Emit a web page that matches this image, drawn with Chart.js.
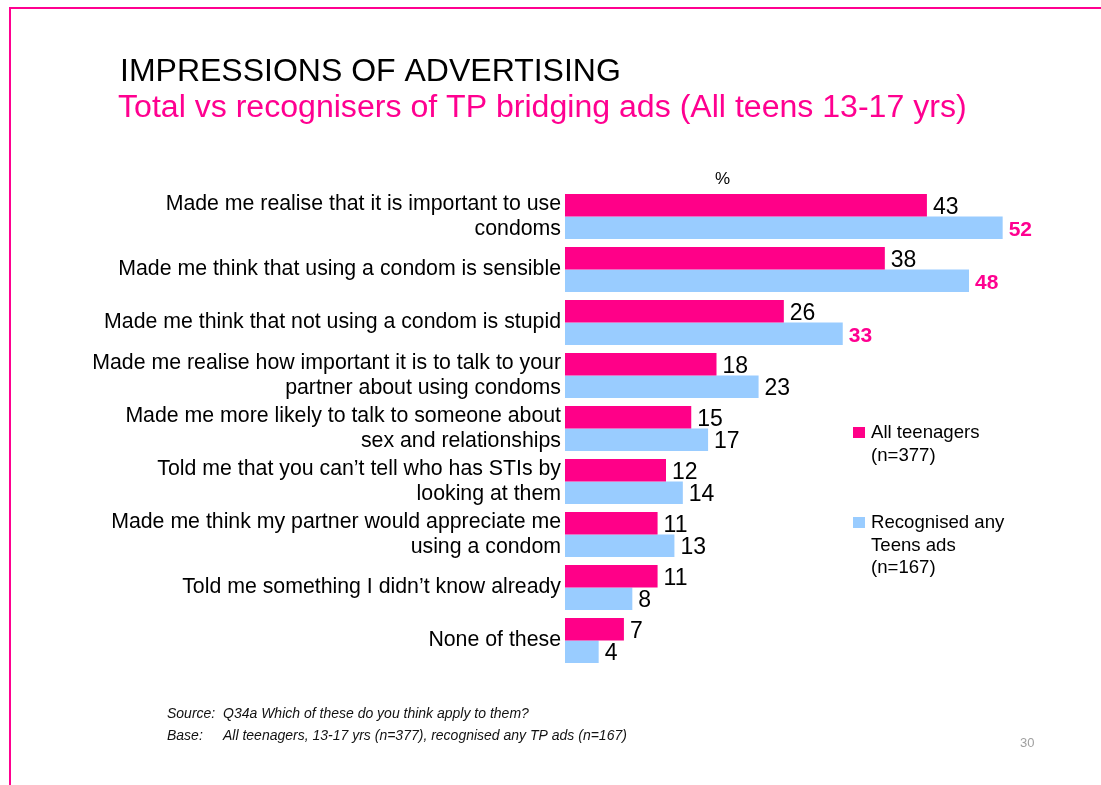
<!DOCTYPE html>
<html>
<head>
<meta charset="utf-8">
<title>Impressions of advertising</title>
<script src="https://cdn.jsdelivr.net/npm/chart.js@4"></script>
<style>
  html, body { margin: 0; padding: 0; background: #fff; }
  #wrap { width: 1101px; height: 785px; }
</style>
</head>
<body>
<div id="wrap"><canvas id="adChart" width="1101" height="785"></canvas></div>
<script>
// Statements, one per row (arrays break over two lines)
const statements = [
  ['Made me realise that it is important to use', 'condoms'],
  'Made me think that using a condom is sensible',
  'Made me think that not using a condom is stupid',
  ['Made me realise how important it is to talk to your', 'partner about using condoms'],
  ['Made me more likely to talk to someone about', 'sex and relationships'],
  ['Told me that you can\u2019t tell who has STIs by', 'looking at them'],
  ['Made me think my partner would appreciate me', 'using a condom'],
  'Told me something I didn\u2019t know already',
  'None of these'
];

// % agreeing
const allTeens = [43, 38, 26, 18, 15, 12, 11, 11, 7];
const recognisedAds = [52, 48, 33, 23, 17, 14, 13, 8, 4];

// rows where the recognisers figure is called out
const highlightRows = [0, 1, 2];

const legendAll = ['All teenagers', '(n=377)'];
const legendRecognised = ['Recognised any', 'Teens ads', '(n=167)'];

const PINK = '#FF0088';
const BLUE = '#99CCFF';
const FONT = '"Liberation Sans", Arial, Helvetica, sans-serif';

// Page frame, titles, legend and footnotes
const slideDecor = {
  id: 'slideDecor',
  beforeDraw(chart) {
    const c = chart.ctx;
    c.save();
    c.fillStyle = '#fff';
    c.fillRect(0, 0, chart.width, chart.height);
    c.fillStyle = '#FF0090';
    c.fillRect(9, 7, chart.width - 9, 2);
    c.fillRect(9, 7, 2, chart.height - 7);
    c.restore();
  },
  afterDraw(chart) {
    const c = chart.ctx;
    c.save();
    c.textBaseline = 'alphabetic';
    c.textAlign = 'left';

    c.fillStyle = '#000';
    c.font = '32px ' + FONT;
    c.fillText('IMPRESSIONS OF ADVERTISING', 120, 81);
    c.fillStyle = '#FF0090';
    c.font = '32.1px ' + FONT;
    c.fillText('Total vs recognisers of TP bridging ads (All teens 13-17 yrs)', 118, 117);

    c.fillStyle = '#000';
    c.font = '17px ' + FONT;
    c.fillText('%', 715, 184);

    // legend
    c.font = '18.6px ' + FONT;
    c.fillStyle = PINK;
    c.fillRect(853, 427, 12, 11);
    c.fillStyle = '#000';
    legendAll.forEach((t, i) => c.fillText(t, 871, 438 + i * 22.5));
    c.fillStyle = BLUE;
    c.fillRect(853, 517, 12, 11);
    c.fillStyle = '#000';
    legendRecognised.forEach((t, i) => c.fillText(t, 871, 528 + i * 22.5));

    // footnotes
    c.fillStyle = '#111';
    c.font = 'italic 14px ' + FONT;
    c.fillText('Source:', 167, 718);
    c.fillText('Q34a Which of these do you think apply to them?', 223, 718);
    c.fillText('Base:', 167, 740);
    c.fillText('All teenagers, 13-17 yrs (n=377), recognised any TP ads (n=167)', 223, 740);

    c.fillStyle = '#A0A0A0';
    c.font = '13px ' + FONT;
    c.fillText('30', 1020, 747);
    c.restore();
  }
};

// Value labels to the right of each bar
const barValues = {
  id: 'barValues',
  afterDatasetsDraw(chart) {
    const c = chart.ctx;
    c.save();
    c.textAlign = 'left';
    c.textBaseline = 'middle';
    chart.data.datasets.forEach((ds, di) => {
      chart.getDatasetMeta(di).data.forEach((bar, i) => {
        const hot = di === 1 && highlightRows.includes(i);
        c.font = (hot ? 'bold 21px ' : '23px ') + FONT;
        c.fillStyle = hot ? '#FF0090' : '#000';
        c.fillText(String(ds.data[i]), bar.x + 6, bar.y + 2);
      });
    });
    c.restore();
  }
};

new Chart(document.getElementById('adChart').getContext('2d'), {
  type: 'bar',
  data: {
    labels: statements,
    datasets: [
      { label: 'All teenagers (n=377)', data: allTeens, backgroundColor: PINK },
      { label: 'Recognised any Teens ads (n=167)', data: recognisedAds, backgroundColor: BLUE }
    ]
  },
  options: {
    indexAxis: 'y',
    responsive: false,
    animation: false,
    categoryPercentage: 0.85,
    barPercentage: 1.0,
    layout: { padding: { left: 0, top: 190, bottom: 118, right: 31 } },
    scales: {
      x: { display: false, min: 0, max: 60 },
      y: {
        grid: { display: false, drawTicks: false },
        border: { display: false },
        ticks: {
          autoSkip: false,
          padding: 4,
          color: '#000',
          font: { family: FONT, size: 21.3, lineHeight: 1.18 }
        },
        afterFit(scale) { scale.width = 565; }
      }
    },
    plugins: {
      legend: { display: false },
      tooltip: { enabled: false }
    }
  },
  plugins: [slideDecor, barValues]
});
</script>
</body>
</html>
